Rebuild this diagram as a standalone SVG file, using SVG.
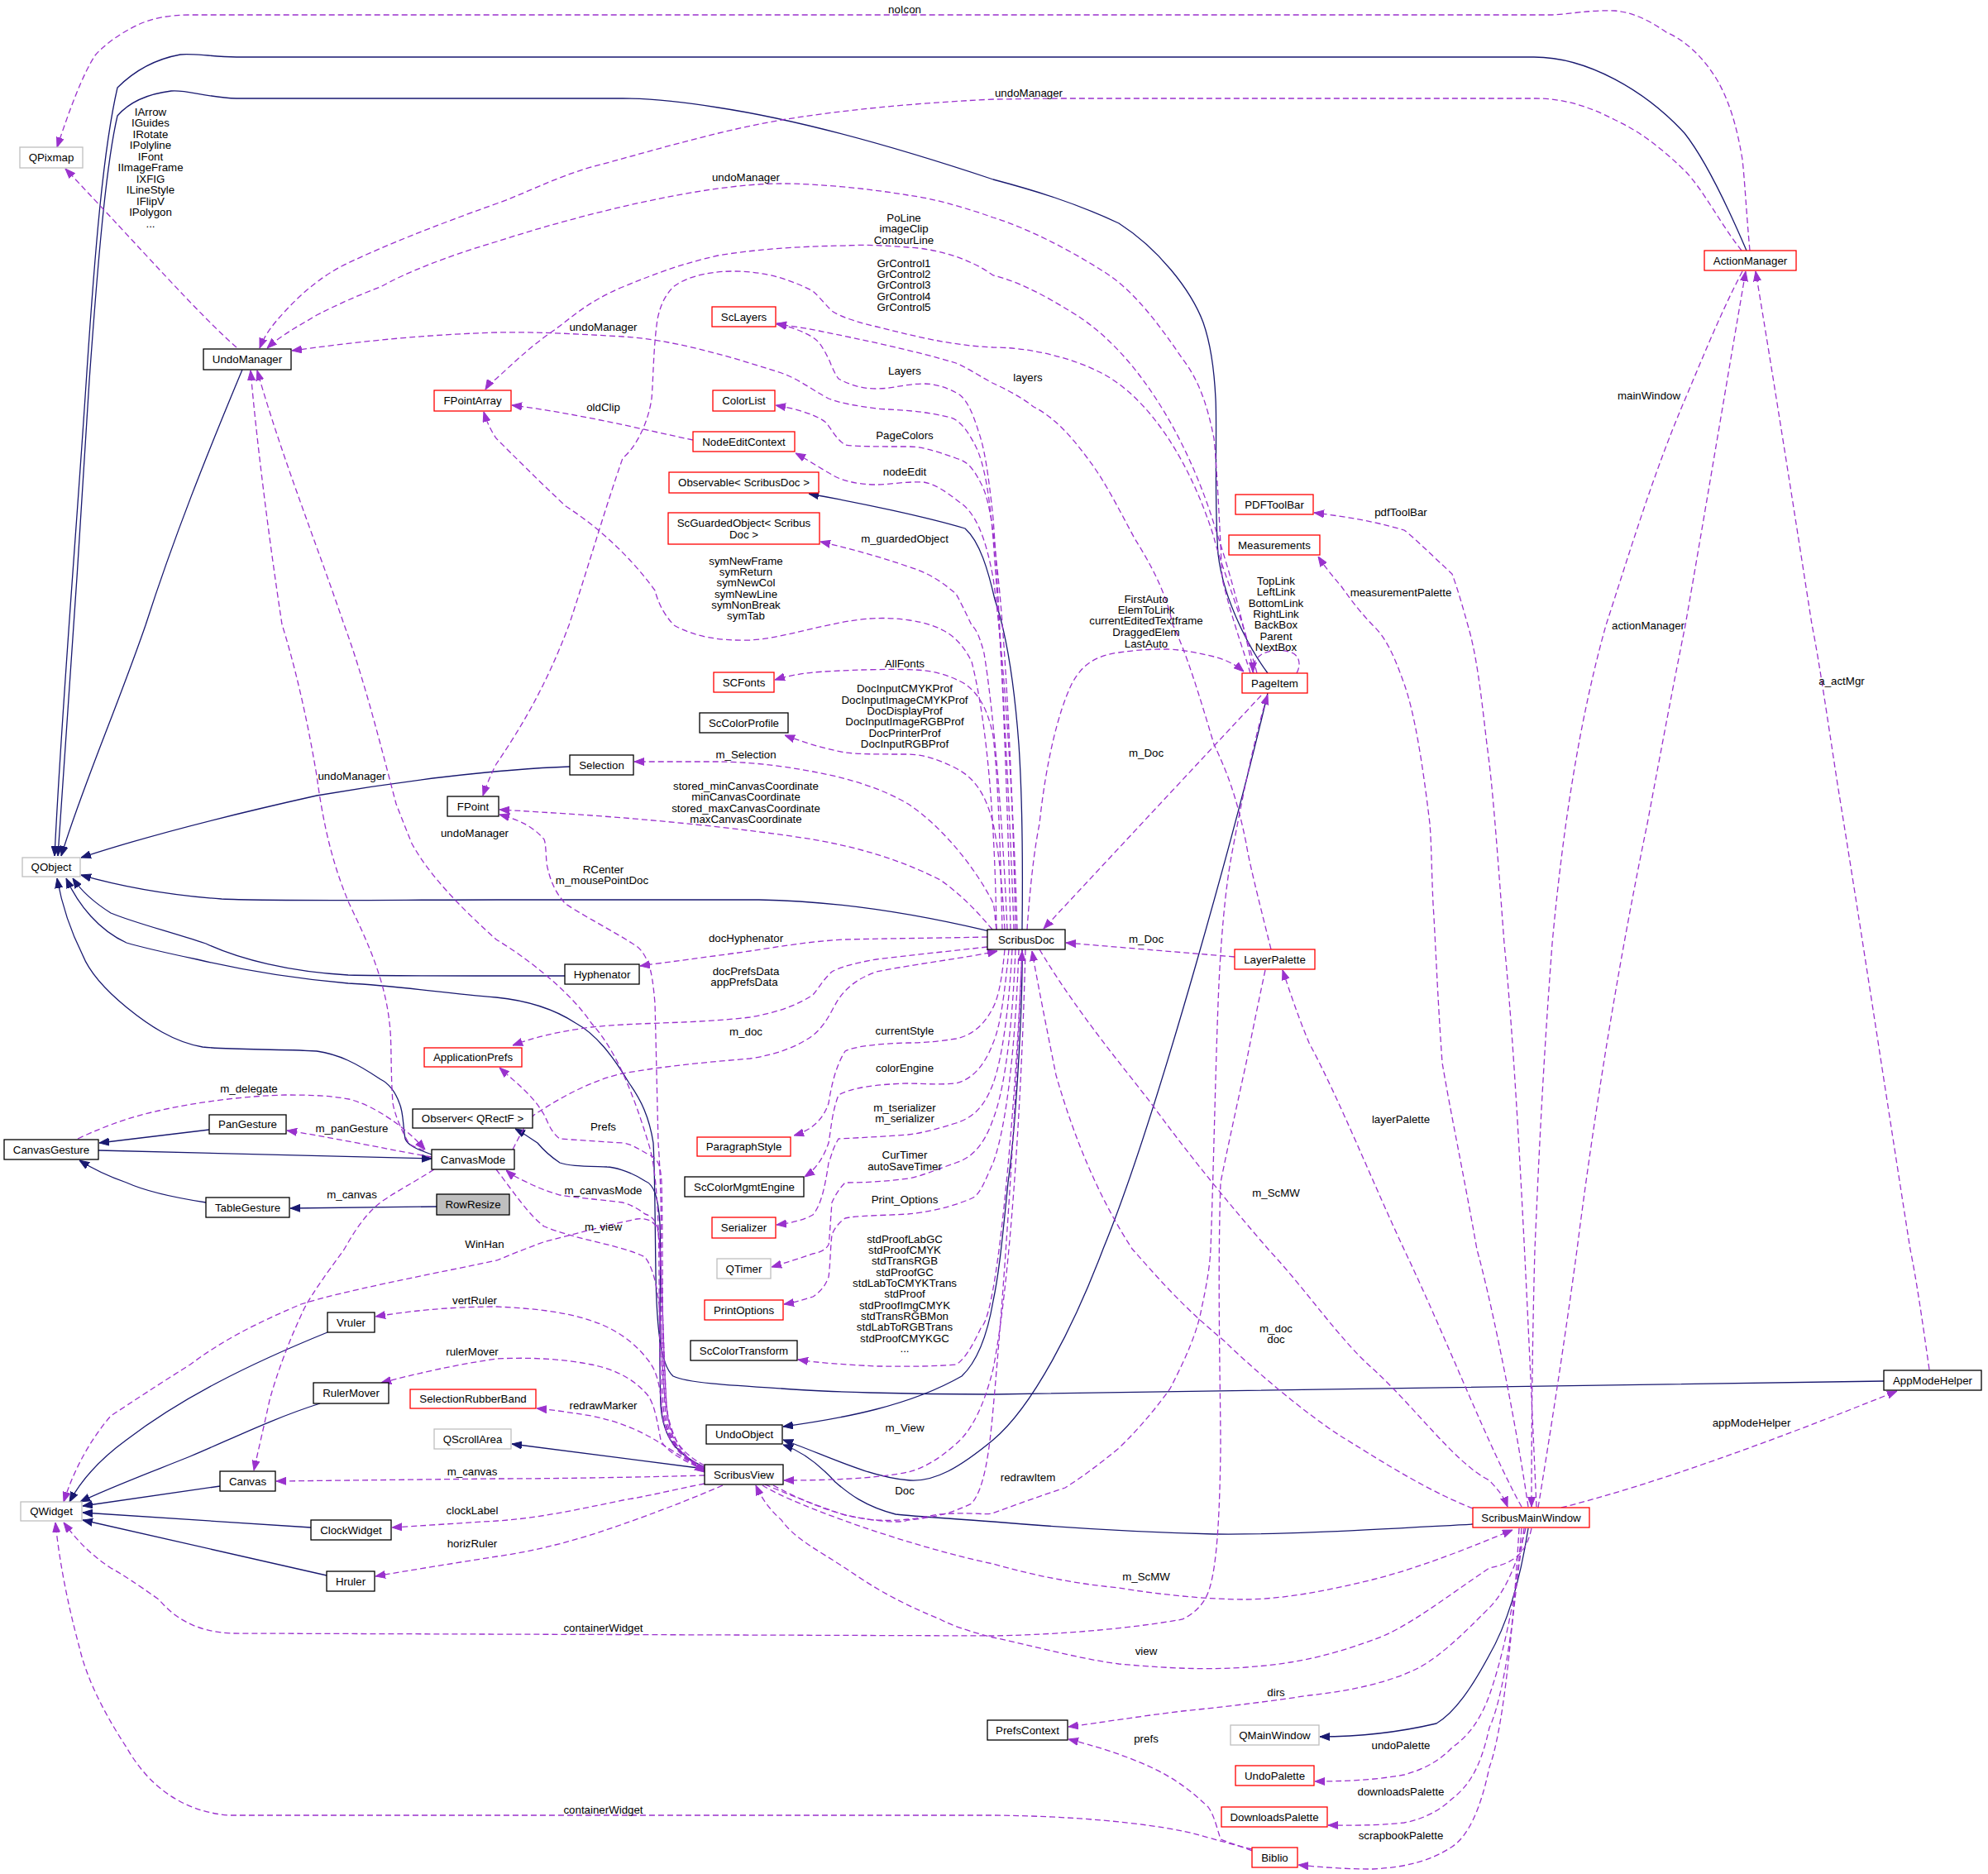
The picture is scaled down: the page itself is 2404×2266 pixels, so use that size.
<svg xmlns="http://www.w3.org/2000/svg" width="2404" height="2266" viewBox="0 0 2404 2266">
<style>
.t{font-family:"Liberation Sans",Arial,Helvetica,sans-serif;font-size:13.3px;fill:#000;text-anchor:middle}
.d{fill:none;stroke:#9a32cd;stroke-width:1.3;stroke-dasharray:7,4;marker-end:url(#ap)}
.s{fill:none;stroke:#191970;stroke-width:1.3;marker-end:url(#ab)}
.nb{fill:#fff;stroke:#000;stroke-width:1.3}
.nr{fill:#fff;stroke:#ff0000;stroke-width:1.3}
.ng{fill:#fff;stroke:#bfbfbf;stroke-width:1.3}
.nf{fill:#bfbfbf;stroke:#000;stroke-width:1.3}
</style>
<defs>
<marker id="ap" viewBox="0 0 12 10" refX="12" refY="5" markerWidth="12" markerHeight="10" markerUnits="userSpaceOnUse" orient="auto"><path d="M0,0.5 L12,5 L0,9.5 z" fill="#9a32cd" stroke="#9a32cd" stroke-width="1"/></marker>
<marker id="ab" viewBox="0 0 12 10" refX="12" refY="5" markerWidth="12" markerHeight="10" markerUnits="userSpaceOnUse" orient="auto"><path d="M0,0.5 L12,5 L0,9.5 z" fill="#191970" stroke="#191970" stroke-width="1"/></marker>
</defs>
<rect width="2404" height="2266" fill="#fff"/>
<g id="edges">
<!-- solid inheritance -->
<path class="s" d="M293,447 C250,550 210,650 176,756 C140,860 100,950 74,1035"/>
<path class="s" d="M2112,303 C2085,240 2060,190 2037,161 C1990,110 1920,69 1855,69 L286,69 C250,68 230,64 218,66 C185,72 160,88 142,106 C125,180 115,300 105,450 C92,650 75,850 66,1035"/>
<path class="s" d="M1533,814 C1515,790 1480,730 1473,670 C1468,600 1472,520 1470,482 C1468,440 1462,410 1455,390 C1440,350 1400,300 1353,270 C1300,245 1250,230 1201,217 C1150,200 1000,150 868,130 C820,122 780,119 753,119 L286,119 C250,118 225,108 207,110 C175,114 155,125 142,140 C128,200 118,320 108,460 C96,650 84,850 70,1035"/>
<path class="s" d="M689,927 C600,930 480,945 383,962 C280,985 180,1010 98,1037"/>
<path class="s" d="M1196,1126 C1170,1120 1050,1090 918,1088 L601,1088 C480,1088 330,1090 268,1087 C200,1082 140,1070 98,1058"/>
<path class="s" d="M683,1180 L601,1180 C520,1180 470,1180 421,1179 C350,1175 290,1160 249,1141 C200,1125 160,1115 134,1104 C115,1092 100,1080 88,1062"/>
<path class="s" d="M2278,1670 L1201,1686 C1100,1686 990,1683 945,1679 C880,1675 830,1672 814,1664 C798,1650 794,1600 793,1540 C792,1470 792,1420 790,1382 C785,1350 775,1330 761,1310 C740,1275 720,1250 696,1237 C670,1220 640,1210 600,1206 C530,1200 480,1192 421,1189 C340,1182 280,1170 238,1160 C200,1152 170,1145 153,1140 C120,1125 95,1095 80,1062"/>
<path class="s" d="M522,1396 C505,1390 493,1385 490,1377 C487,1360 488,1345 483,1334 C478,1320 470,1310 460,1305 C430,1285 410,1275 383,1271 C330,1268 285,1270 245,1266 C210,1260 180,1240 153,1218 C125,1195 108,1175 100,1155 C85,1125 75,1095 69,1062"/>
<path class="s" d="M1236,1124 C1237,1040 1236,960 1232,900 C1226,820 1215,760 1203,725 C1195,690 1185,655 1167,639 C1120,625 1040,608 978,597"/>
<path class="s" d="M1236,1148 C1237,1200 1230,1350 1219,1430 C1212,1500 1208,1540 1201,1573 C1193,1620 1180,1648 1163,1664 C1100,1700 1020,1715 947,1725"/>
<path class="s" d="M1533,838 C1500,980 1400,1350 1334,1510 C1300,1600 1250,1700 1201,1741 C1160,1775 1130,1792 1100,1790 C1050,1786 1000,1760 947,1741"/>
<path class="s" d="M1781,1843 C1650,1850 1550,1856 1468,1855 C1350,1852 1260,1845 1201,1840 C1150,1836 1110,1834 1083,1831 C1040,1820 1020,1800 1010,1792 C990,1770 970,1755 947,1747"/>
<path class="s" d="M1848,1848 C1840,1900 1825,1960 1800,2003 C1780,2040 1760,2070 1737,2084 C1690,2095 1640,2100 1596,2100"/>
<path class="s" d="M852,1776 L619,1746"/>
<path class="s" d="M852,1774 C820,1760 802,1740 799,1700 C796,1620 800,1540 798,1480 C796,1445 790,1432 780,1428 C760,1415 740,1411 734,1411 C705,1410 688,1410 677,1406 C665,1398 655,1388 650,1382 C640,1375 632,1370 623,1365"/>
<path class="s" d="M119,1391 L522,1401"/>
<path class="s" d="M253,1366 L120,1382"/>
<path class="s" d="M249,1454 C210,1448 175,1440 153,1430 C130,1422 110,1412 96,1403"/>
<path class="s" d="M528,1459 L351,1461"/>
<path class="s" d="M396,1611 C300,1650 220,1690 153,1741 C120,1765 98,1790 84,1816"/>
<path class="s" d="M387,1697 C330,1715 280,1740 230,1761 C170,1785 130,1800 97,1816"/>
<path class="s" d="M266,1797 L100,1821"/>
<path class="s" d="M376,1847 L100,1829"/>
<path class="s" d="M395,1905 L100,1838"/>
<!-- dashed usage -->
<path class="d" d="M2116,303 C2112,260 2110,220 2107,193 C2100,150 2090,120 2076,96 C2060,70 2040,50 2015,39 C1995,25 1975,15 1953,13 C1920,12 1900,17 1877,18 L230,18 C205,18 185,22 169,29 C145,40 125,55 115,67 C100,90 85,130 69,178"/>
<path class="d" d="M2106,303 C2080,270 2060,230 2038,207 C2010,180 1985,160 1953,145 C1920,128 1890,119 1857,119 L1284,119 C1250,119 1220,120 1201,120 C1100,125 1020,133 945,145 C860,160 780,185 715,202 C670,215 640,232 601,246 C520,275 470,295 421,318 C385,335 360,360 345,376 C330,392 320,405 314,421"/>
<path class="d" d="M1512,814 C1505,790 1490,750 1478,700 C1475,640 1472,570 1468,530 C1460,490 1450,460 1430,434 C1400,390 1370,350 1334,328 C1290,300 1240,275 1201,263 C1170,252 1130,240 1098,236 C1050,228 990,222 945,222 C850,222 700,260 601,292 C540,310 490,330 460,347 C420,362 395,375 383,381 C360,395 340,405 323,421"/>
<path class="d" d="M1226,1124 C1222,1000 1212,800 1203,680 C1198,600 1190,560 1180,540 C1170,520 1160,508 1150,505 C1110,495 1080,496 1060,494 C1030,490 1015,487 1002,482 C980,470 965,458 945,451 C880,430 810,410 753,407 C700,404 650,401 601,402 C500,405 420,415 353,424"/>
<path class="d" d="M1222,1124 C1218,950 1210,750 1201,627 C1195,570 1190,540 1183,521 C1175,495 1168,483 1160,477 C1145,468 1130,464 1117,464 C1095,464 1080,470 1060,470 C1040,470 1025,464 1014,458 C1008,450 1005,440 1002,434 C995,420 990,412 983,408 C970,400 955,395 939,391"/>
<path class="d" d="M1228,1124 C1225,950 1215,760 1205,680 C1200,630 1195,600 1186,584 C1176,565 1170,558 1156,554 C1130,545 1115,540 1098,540 C1060,540 1035,540 1022,538 C1010,530 1005,518 999,511 C985,500 960,494 938,490"/>
<path class="d" d="M1230,1124 C1226,980 1215,800 1201,699 C1192,650 1180,620 1160,607 C1145,595 1130,585 1117,583 C1095,582 1075,586 1060,586 C1035,586 1015,580 1006,574 C990,565 975,555 962,548"/>
<path class="d" d="M1218,1124 C1212,980 1200,850 1190,790 C1185,770 1180,760 1175,756 C1165,735 1160,725 1156,718 C1135,700 1120,692 1098,685 C1060,672 1030,664 992,655"/>
<path class="d" d="M1205,1124 C1203,1000 1195,880 1175,800 C1160,770 1140,756 1100,750 C1060,744 1030,750 1006,755 C970,762 940,772 907,774 C870,775 840,770 815,756 C800,740 795,725 792,714 C760,670 720,635 684,612 C650,580 620,550 600,530 C592,518 588,508 585,498"/>
<path class="d" d="M1212,1124 C1210,1050 1208,950 1201,890 C1195,860 1185,840 1167,827 C1140,812 1120,810 1094,809.5 C1050,809 1010,811 983,813 C965,815 950,818 937,822"/>
<path class="d" d="M1215,1124 C1212,1070 1208,1030 1201,996 C1192,960 1178,940 1156,929 C1135,918 1115,912 1098,912 C1060,912 1040,912 1022,910 C995,905 970,897 949,889"/>
<path class="d" d="M1205,1124 C1203,1110 1203,1100 1201,1092 C1180,1050 1140,1000 1098,972 C1060,950 1020,940 983,933 C940,925 900,921 868,921 L767,921"/>
<path class="d" d="M1200,1124 C1180,1100 1160,1080 1137,1064 C1090,1040 1040,1025 983,1015 C900,1002 800,992 715,986 C670,983 640,981 604,979"/>
<path class="d" d="M1194,1133 C1150,1134 1060,1135 1022,1136 C980,1138 940,1145 907,1150 C850,1158 810,1163 774,1168"/>
<path class="d" d="M1194,1145 C1150,1150 1100,1155 1060,1160 C1030,1165 1015,1170 1006,1175 C995,1185 990,1195 983,1203 C960,1218 935,1225 907,1230 C840,1238 770,1236 715,1242 C670,1248 645,1255 620,1264"/>
<path class="d" d="M620,1390 C630,1370 638,1355 646,1348 C680,1325 720,1305 753,1298 C810,1288 860,1284 907,1280 C940,1275 965,1265 983,1252 C1000,1238 1005,1222 1014,1208 C1025,1192 1040,1182 1060,1175 C1110,1165 1170,1158 1206,1150"/>
<path class="d" d="M1215,1148 C1212,1180 1208,1205 1201,1218 C1190,1240 1175,1252 1156,1256 C1130,1260 1115,1261 1098,1261 C1060,1262 1035,1265 1022,1271 C1010,1290 1005,1315 1002,1334 C995,1355 980,1367 960,1373"/>
<path class="d" d="M1220,1148 C1215,1200 1210,1240 1201,1261 C1190,1290 1175,1305 1156,1310 C1130,1312 1115,1310 1098,1310 C1060,1311 1030,1315 1014,1324 C1006,1345 1005,1365 1002,1382 C995,1402 985,1415 973,1423"/>
<path class="d" d="M1224,1148 C1220,1220 1212,1280 1201,1310 C1190,1340 1175,1352 1156,1358 C1130,1366 1115,1370 1098,1372 C1060,1375 1030,1376 1014,1377 C1006,1390 1005,1400 1002,1406 C997,1440 992,1458 983,1469 C970,1476 955,1479 939,1481"/>
<path class="d" d="M1228,1148 C1224,1250 1214,1320 1201,1353 C1190,1385 1175,1400 1156,1406 C1130,1415 1115,1422 1098,1425 C1060,1430 1035,1430 1022,1430 C1012,1440 1008,1450 1006,1454 C1004,1480 1003,1500 1002,1505 C998,1512 992,1514 983,1516 C965,1522 950,1527 933,1532"/>
<path class="d" d="M1232,1148 C1228,1260 1218,1360 1201,1406 C1190,1430 1185,1445 1175,1449 C1150,1460 1120,1466 1098,1468 C1060,1470 1035,1470 1022,1473 C1012,1480 1008,1488 1006,1493 C1004,1510 1004,1530 1002,1544 C998,1555 992,1562 983,1568 C970,1572 960,1575 948,1577"/>
<path class="d" d="M1236,1148 C1230,1300 1215,1480 1201,1558 C1196,1585 1192,1600 1186,1606 C1175,1630 1165,1645 1156,1650 C1120,1653 1090,1652 1060,1652 C1020,1650 990,1648 965,1644"/>
<path class="d" d="M1240,1148 C1235,1350 1220,1560 1201,1655 C1190,1700 1175,1730 1156,1746 C1135,1765 1115,1776 1098,1780 C1060,1788 1000,1790 948,1790"/>
<path class="d" d="M925,1795 C960,1810 1000,1825 1022,1832 C1060,1840 1090,1842 1098,1838 C1130,1835 1150,1830 1175,1818 C1190,1800 1196,1760 1201,1703 C1215,1550 1228,1350 1236,1150"/>
<path class="d" d="M1257,1148 C1300,1220 1350,1280 1392,1334 C1440,1400 1490,1460 1534,1511 C1580,1560 1620,1620 1660,1655 C1710,1700 1760,1770 1801,1790 C1810,1800 1818,1808 1823,1822"/>
<path class="d" d="M1781,1824 C1720,1800 1660,1760 1622,1737 C1580,1710 1520,1660 1480,1621 C1430,1580 1400,1545 1369,1510 C1330,1450 1300,1380 1277,1300 C1265,1240 1255,1190 1248,1150"/>
<path class="d" d="M2107,328 C2080,380 2060,430 2038,482 C2000,570 1970,670 1942,756 C1910,870 1890,1000 1877,1141 C1865,1300 1860,1420 1856,1511 C1853,1620 1852,1720 1852,1822"/>
<path class="d" d="M1860,1823 C1880,1700 1895,1600 1907,1511 C1930,1330 1960,1150 1992,996 C2010,900 2025,820 2038,756 C2060,630 2085,480 2111,328"/>
<path class="d" d="M2333,1656 C2325,1600 2318,1550 2310,1511 C2280,1320 2250,1120 2222,948 C2210,870 2200,800 2191,755 C2170,620 2145,460 2123,328"/>
<path class="d" d="M1888,1823 C2000,1795 2150,1740 2294,1682"/>
<path class="d" d="M1858,1822 C1848,1600 1835,1300 1819,1141 C1810,1020 1805,950 1798,900 C1790,830 1785,790 1775,756 C1765,720 1760,705 1756,694 C1730,670 1710,650 1698,641 C1660,630 1630,625 1589,620"/>
<path class="d" d="M1848,1822 C1830,1700 1800,1560 1786,1511 C1770,1420 1755,1350 1744,1285 C1738,1200 1736,1140 1733,1093 C1731,1050 1731,1020 1729,996 C1720,920 1710,860 1698,827 C1685,790 1675,770 1660,756 C1640,735 1630,720 1622,709 C1610,695 1602,685 1594,673"/>
<path class="d" d="M1840,1822 C1800,1750 1750,1620 1698,1511 C1660,1430 1620,1330 1583,1261 C1570,1230 1560,1200 1551,1173"/>
<path class="d" d="M1852,1848 C1845,1880 1830,1890 1801,1896 C1750,1930 1700,1970 1660,1983 C1600,2005 1560,2012 1507,2016 C1450,2020 1400,2016 1353,2012 C1300,2005 1250,1990 1201,1980 C1160,1970 1140,1960 1137,1958 C1080,1935 1050,1915 1022,1896 C990,1875 960,1860 945,1838 C930,1825 920,1810 914,1796"/>
<path class="d" d="M922,1796 C960,1820 1100,1870 1201,1891 C1250,1905 1300,1915 1353,1920 C1400,1928 1460,1934 1507,1934 C1560,1933 1610,1922 1660,1910 C1720,1895 1780,1870 1829,1850"/>
<path class="d" d="M935,1796 C980,1820 1020,1835 1060,1838 C1100,1840 1120,1833 1137,1831 C1170,1828 1190,1832 1200,1830 C1240,1815 1270,1805 1288,1799 C1310,1785 1330,1770 1353,1751 C1380,1725 1400,1700 1415,1679 C1435,1640 1448,1610 1453,1582 C1460,1550 1463,1530 1464,1510 C1468,1400 1470,1280 1474,1189 C1478,1110 1484,1060 1491,1025 C1505,950 1520,880 1533,840"/>
<path class="d" d="M1530,1173 C1520,1220 1512,1260 1507,1285 C1495,1340 1484,1390 1476,1430 C1472,1550 1476,1680 1476,1751 C1475,1830 1472,1870 1468,1896 C1465,1915 1462,1925 1457,1934 C1450,1945 1442,1952 1430,1958 C1350,1972 1260,1977 1201,1978 L280,1975 C235,1973 210,1955 192,1934 C165,1915 150,1905 134,1896 C110,1880 95,1865 77,1841"/>
<path class="d" d="M1514,2236 C1480,2228 1450,2218 1430,2214 C1380,2204 1300,2196 1201,2195 L276,2195 C220,2190 180,2160 153,2113 C125,2070 105,2030 96,1992 C82,1940 72,1890 67,1841"/>
<path class="d" d="M1845,1848 C1835,1890 1820,1925 1801,1944 C1770,1975 1745,2000 1717,2016 C1680,2035 1630,2045 1583,2050 C1530,2058 1480,2064 1430,2069 C1380,2075 1330,2083 1292,2088"/>
<path class="d" d="M1514,2238 C1500,2232 1485,2228 1476,2224 C1470,2205 1468,2195 1461,2185 C1440,2165 1420,2150 1392,2137 C1360,2122 1320,2110 1292,2103"/>
<path class="d" d="M1843,1848 C1830,1950 1815,2010 1801,2050 C1790,2080 1775,2100 1756,2113 C1740,2130 1720,2140 1698,2146 C1660,2153 1620,2154 1590,2154"/>
<path class="d" d="M1840,1848 C1830,1980 1815,2060 1801,2089 C1790,2140 1775,2160 1756,2175 C1740,2190 1720,2200 1698,2204 C1660,2208 1630,2207 1606,2207"/>
<path class="d" d="M1837,1848 C1828,2000 1815,2100 1801,2137 C1790,2190 1775,2220 1756,2233 C1730,2250 1700,2258 1660,2260 C1620,2260 1590,2257 1570,2255"/>
<path class="d" d="M1242,1124 C1245,1080 1250,1030 1257,996 C1265,920 1280,860 1296,827 C1310,800 1330,792 1353,789 C1380,785 1395,785 1411,785 C1435,786 1450,790 1468,794 C1480,797 1492,802 1504,812"/>
<path class="d" d="M1568,814 C1573,805 1572,795 1564,790 C1550,784 1535,786 1526,791 C1518,796 1515,802 1515,813"/>
<path class="d" d="M1525,841 L1262,1123"/>
<path class="d" d="M1493,1157 L1289,1140"/>
<path class="d" d="M1537,1148 C1520,1080 1510,1040 1507,1020 C1495,960 1482,930 1468,900 C1450,840 1435,790 1418,755 C1410,715 1390,680 1372,651 C1350,610 1335,580 1315,554 C1290,520 1270,502 1250,492 C1235,480 1215,470 1200,463 C1180,452 1170,445 1156,439 C1110,425 1040,410 990,400 C970,396 955,394 939,392"/>
<path class="d" d="M1516,814 C1505,760 1490,700 1470,640 C1440,540 1380,430 1300,380 C1260,355 1230,340 1201,333 C1190,325 1180,320 1175,318 C1150,306 1120,300 1098,299 C1060,296 1040,296 1022,297 C960,298 910,302 868,309 C820,320 790,332 753,347 C710,365 690,385 669,400 C640,420 620,440 600,458 C595,462 590,466 587,471"/>
<path class="d" d="M1520,814 C1500,740 1475,680 1468,650 C1440,560 1390,480 1330,450 C1290,430 1240,420 1201,420 C1150,418 1100,405 1060,395 C1030,388 1015,382 1006,376 C995,365 990,358 983,352 C950,335 920,328 887,328 C850,328 825,338 814,347 C802,360 798,372 795,386 C790,420 790,460 788,482 C784,510 770,540 753,554 C730,620 710,690 688,756 C660,830 630,880 600,924 C592,940 588,950 584,962"/>
<path class="d" d="M838,532 C780,520 700,500 619,490"/>
<path class="d" d="M286,420 C240,380 170,300 79,204"/>
<path class="d" d="M94,1377 C130,1360 160,1350 192,1343 C240,1332 300,1325 345,1324 C380,1324 400,1325 422,1329 C445,1335 465,1348 479,1358 C495,1370 505,1380 514,1390"/>
<path class="d" d="M522,1399 C470,1390 400,1375 347,1367"/>
<path class="d" d="M525,1414 C500,1430 480,1440 460,1454 C440,1470 428,1490 416,1511 C395,1540 380,1560 368,1582 C350,1620 335,1660 326,1693 C318,1730 312,1755 307,1778"/>
<path class="d" d="M513,1391 C500,1387 496,1384 494,1382 C485,1365 478,1350 475,1334 C472,1290 474,1260 471,1237 C465,1180 440,1130 422,1092 C400,1040 390,990 383,938 C370,860 355,800 341,755 C325,650 310,530 303,448"/>
<path class="d" d="M852,1774 C820,1760 805,1740 800,1700 C796,1620 798,1540 796,1480 C794,1430 790,1400 784,1382 C765,1320 745,1270 715,1237 C690,1200 640,1160 600,1136 C560,1100 520,1060 498,1020 C490,1000 484,985 479,972 C460,900 440,820 416,755 C380,650 340,550 311,448"/>
<path class="d" d="M852,1775 C822,1760 806,1742 802,1700 C798,1620 800,1520 799,1450 C798,1410 797,1395 796,1382 C794,1300 793,1250 792,1213 C790,1190 788,1175 784,1165 C778,1150 772,1145 765,1141 C740,1125 710,1110 684,1093 C672,1080 665,1065 661,1044 C660,1030 660,1020 658,1015 C645,1000 630,992 604,985"/>
<path class="d" d="M852,1776 C824,1762 808,1744 804,1700 C800,1620 802,1500 800,1430 C799,1410 796,1400 784,1396 C770,1388 765,1384 753,1382 C720,1380 690,1378 677,1377 C665,1368 662,1355 658,1348 C645,1325 625,1310 604,1291"/>
<path class="d" d="M852,1778 C826,1764 810,1746 806,1700 C802,1620 800,1530 796,1490 C794,1476 788,1470 780,1468 C770,1460 760,1456 753,1454 C720,1450 695,1448 677,1445 C660,1440 648,1435 638,1430 C628,1425 620,1422 612,1415"/>
<path class="d" d="M600,1414 C620,1440 640,1470 658,1483 C700,1500 750,1505 780,1520 C795,1540 798,1580 800,1620 C802,1700 806,1750 852,1780"/>
<path class="d" d="M852,1772 C823,1757 809,1737 806,1700 C801,1620 801,1540 797,1495 C795,1478 785,1472 770,1474 C740,1480 690,1493 657,1502 C635,1510 615,1518 601,1524 C500,1545 420,1560 364,1577 C310,1600 270,1620 230,1650 C190,1675 160,1695 134,1712 C110,1740 90,1775 77,1816"/>
<path class="d" d="M852,1777 C820,1762 802,1740 800,1700 C798,1670 792,1655 784,1645 C765,1620 740,1605 715,1597 C680,1585 640,1582 601,1580 C540,1580 490,1586 454,1592"/>
<path class="d" d="M852,1778 C825,1765 805,1755 799,1741 C795,1720 792,1700 784,1688 C765,1665 740,1655 715,1650 C680,1643 640,1641 601,1643 C550,1650 500,1662 461,1672"/>
<path class="d" d="M852,1779 C830,1765 810,1752 792,1741 C770,1728 745,1718 715,1712 C690,1708 670,1705 649,1703"/>
<path class="d" d="M852,1784 C780,1786 680,1788 601,1788 L334,1791"/>
<path class="d" d="M852,1794 C820,1800 790,1808 753,1814 C700,1825 650,1836 601,1839 C550,1842 510,1845 474,1847"/>
<path class="d" d="M874,1796 C830,1815 790,1830 753,1843 C700,1862 650,1875 601,1882 C550,1890 500,1898 454,1906"/>
</g>
<g id="edge-labels">
<text class="t" x="1094" y="16">noIcon</text>
<text class="t" x="1244" y="117">undoManager</text>
<text class="t" x="902" y="219">undoManager</text>
<text class="t"><tspan x="1093" y="268">PoLine</tspan><tspan x="1093" y="281">imageClip</tspan><tspan x="1093" y="295">ContourLine</tspan></text>
<text class="t"><tspan x="1093" y="323">GrControl1</tspan><tspan x="1093" y="336">GrControl2</tspan><tspan x="1093" y="349">GrControl3</tspan><tspan x="1093" y="363">GrControl4</tspan><tspan x="1093" y="376">GrControl5</tspan></text>
<text class="t"><tspan x="182" y="139.5">IArrow</tspan><tspan x="182" y="153">IGuides</tspan><tspan x="182" y="166.5">IRotate</tspan><tspan x="182" y="180">IPolyline</tspan><tspan x="182" y="193.5">IFont</tspan><tspan x="182" y="207">IImageFrame</tspan><tspan x="182" y="220.5">IXFIG</tspan><tspan x="182" y="234">ILineStyle</tspan><tspan x="182" y="247.5">IFlipV</tspan><tspan x="182" y="261">IPolygon</tspan><tspan x="182" y="274.5">...</tspan></text>
<text class="t" x="729.5" y="400">undoManager</text>
<text class="t" x="1094" y="453">Layers</text>
<text class="t" x="1243" y="461">layers</text>
<text class="t" x="729.5" y="497">oldClip</text>
<text class="t" x="1094" y="531">PageColors</text>
<text class="t" x="1094" y="575">nodeEdit</text>
<text class="t" x="1694" y="624">pdfToolBar</text>
<text class="t" x="1094" y="656">m_guardedObject</text>
<text class="t"><tspan x="902" y="683">symNewFrame</tspan><tspan x="902" y="696">symReturn</tspan><tspan x="902" y="709">symNewCol</tspan><tspan x="902" y="722.5">symNewLine</tspan><tspan x="902" y="736">symNonBreak</tspan><tspan x="902" y="749">symTab</tspan></text>
<text class="t" x="1694" y="720.5">measurementPalette</text>
<text class="t"><tspan x="1543" y="706.5">TopLink</tspan><tspan x="1543" y="720">LeftLink</tspan><tspan x="1543" y="733.5">BottomLink</tspan><tspan x="1543" y="747">RightLink</tspan><tspan x="1543" y="760">BackBox</tspan><tspan x="1543" y="774">Parent</tspan><tspan x="1543" y="787">NextBox</tspan></text>
<text class="t"><tspan x="1386" y="729">FirstAuto</tspan><tspan x="1386" y="742">ElemToLink</tspan><tspan x="1386" y="755">currentEditedTextframe</tspan><tspan x="1386" y="769">DraggedElem</tspan><tspan x="1386" y="782.5">LastAuto</tspan></text>
<text class="t" x="1994" y="483">mainWindow</text>
<text class="t" x="1993" y="760.5">actionManager</text>
<text class="t" x="1094" y="807">AllFonts</text>
<text class="t" x="2227" y="828">a_actMgr</text>
<text class="t"><tspan x="1094" y="836.5">DocInputCMYKProf</tspan><tspan x="1094" y="850.5">DocInputImageCMYKProf</tspan><tspan x="1094" y="863.5">DocDisplayProf</tspan><tspan x="1094" y="877">DocInputImageRGBProf</tspan><tspan x="1094" y="890.5">DocPrinterProf</tspan><tspan x="1094" y="903.5">DocInputRGBProf</tspan></text>
<text class="t" x="1386" y="914.5">m_Doc</text>
<text class="t" x="902" y="917">m_Selection</text>
<text class="t"><tspan x="902" y="955">stored_minCanvasCoordinate</tspan><tspan x="902" y="968">minCanvasCoordinate</tspan><tspan x="902" y="981.5">stored_maxCanvasCoordinate</tspan><tspan x="902" y="995">maxCanvasCoordinate</tspan></text>
<text class="t" x="425.5" y="943">undoManager</text>
<text class="t" x="574" y="1012">undoManager</text>
<text class="t"><tspan x="729.5" y="1055.5">RCenter</tspan><tspan x="728" y="1068.5">m_mousePointDoc</tspan></text>
<text class="t" x="902" y="1139">docHyphenator</text>
<text class="t" x="1386" y="1140">m_Doc</text>
<text class="t"><tspan x="902" y="1178.5">docPrefsData</tspan><tspan x="900" y="1192">appPrefsData</tspan></text>
<text class="t" x="1094" y="1251">currentStyle</text>
<text class="t" x="902" y="1252">m_doc</text>
<text class="t" x="1094" y="1296">colorEngine</text>
<text class="t" x="301" y="1321">m_delegate</text>
<text class="t"><tspan x="1094" y="1344">m_tserializer</tspan><tspan x="1094" y="1357">m_serializer</tspan></text>
<text class="t" x="1694" y="1357.5">layerPalette</text>
<text class="t" x="729.5" y="1366.5">Prefs</text>
<text class="t" x="425.5" y="1369">m_panGesture</text>
<text class="t"><tspan x="1094" y="1401">CurTimer</tspan><tspan x="1094" y="1415">autoSaveTimer</tspan></text>
<text class="t" x="729.5" y="1444">m_canvasMode</text>
<text class="t" x="1543" y="1446.5">m_ScMW</text>
<text class="t" x="425.5" y="1449">m_canvas</text>
<text class="t" x="1094" y="1455">Print_Options</text>
<text class="t" x="729.5" y="1487.5">m_view</text>
<text class="t"><tspan x="1094" y="1503">stdProofLabGC</tspan><tspan x="1094" y="1516">stdProofCMYK</tspan><tspan x="1094" y="1529">stdTransRGB</tspan><tspan x="1094" y="1542.5">stdProofGC</tspan><tspan x="1094" y="1555.5">stdLabToCMYKTrans</tspan><tspan x="1094" y="1569">stdProof</tspan><tspan x="1094" y="1582.5">stdProofImgCMYK</tspan><tspan x="1094" y="1595.5">stdTransRGBMon</tspan><tspan x="1094" y="1608.5">stdLabToRGBTrans</tspan><tspan x="1094" y="1622.5">stdProofCMYKGC</tspan><tspan x="1094" y="1635">...</tspan></text>
<text class="t" x="586" y="1508.5">WinHan</text>
<text class="t" x="574" y="1577">vertRuler</text>
<text class="t"><tspan x="1543" y="1611">m_doc</tspan><tspan x="1543" y="1624">doc</tspan></text>
<text class="t" x="571" y="1639">rulerMover</text>
<text class="t" x="729.5" y="1703.5">redrawMarker</text>
<text class="t" x="2118" y="1725">appModeHelper</text>
<text class="t" x="1094" y="1730.5">m_View</text>
<text class="t" x="571" y="1783.5">m_canvas</text>
<text class="t" x="1243" y="1791">redrawItem</text>
<text class="t" x="1094" y="1807">Doc</text>
<text class="t" x="571" y="1831">clockLabel</text>
<text class="t" x="571" y="1870.5">horizRuler</text>
<text class="t" x="1386" y="1911">m_ScMW</text>
<text class="t" x="729.5" y="1972.5">containerWidget</text>
<text class="t" x="1386" y="2001">view</text>
<text class="t" x="1543" y="2050.5">dirs</text>
<text class="t" x="1386" y="2107">prefs</text>
<text class="t" x="1694" y="2115">undoPalette</text>
<text class="t" x="1694" y="2171">downloadsPalette</text>
<text class="t" x="1694" y="2224">scrapbookPalette</text>
<text class="t" x="729.5" y="2193">containerWidget</text>
</g>
<g id="n_QPixmap"><rect class="ng" x="24" y="178" width="76" height="25"/><text class="t" x="62" y="195">QPixmap</text></g>
<g id="n_UndoManager"><rect class="nb" x="246" y="422" width="106" height="25"/><text class="t" x="299" y="439">UndoManager</text></g>
<g id="n_FPointArray"><rect class="nr" x="525" y="472" width="93" height="25"/><text class="t" x="571.5" y="489">FPointArray</text></g>
<g id="n_ScLayers"><rect class="nr" x="861" y="371" width="77" height="24"/><text class="t" x="899.5" y="387.5">ScLayers</text></g>
<g id="n_ColorList"><rect class="nr" x="862" y="472" width="75" height="25"/><text class="t" x="899.5" y="489">ColorList</text></g>
<g id="n_NodeEditContext"><rect class="nr" x="838" y="522" width="123" height="24"/><text class="t" x="899.5" y="538.5">NodeEditContext</text></g>
<g id="n_Observable"><rect class="nr" x="809" y="571" width="181" height="25"/><text class="t" x="899.5" y="588">Observable&lt; ScribusDoc &gt;</text></g>
<g id="n_ScGuardedObject"><rect class="nr" x="808" y="620" width="183" height="38"/><text class="t"><tspan x="899.5" y="636.5">ScGuardedObject&lt; Scribus</tspan><tspan x="899.5" y="650.5">Doc &gt;</tspan></text></g>
<g id="n_SCFonts"><rect class="nr" x="863" y="813" width="73" height="24"/><text class="t" x="899.5" y="829.5">SCFonts</text></g>
<g id="n_ScColorProfile"><rect class="nb" x="846" y="862" width="107" height="24"/><text class="t" x="899.5" y="878.5">ScColorProfile</text></g>
<g id="n_Selection"><rect class="nb" x="689" y="913" width="77" height="24"/><text class="t" x="727.5" y="929.5">Selection</text></g>
<g id="n_FPoint"><rect class="nb" x="541" y="963" width="62" height="24"/><text class="t" x="572" y="979.5">FPoint</text></g>
<g id="n_QObject"><rect class="ng" x="27" y="1037" width="70" height="23"/><text class="t" x="62" y="1053">QObject</text></g>
<g id="n_Hyphenator"><rect class="nb" x="683" y="1166" width="90" height="24"/><text class="t" x="728" y="1182.5">Hyphenator</text></g>
<g id="n_ScribusDoc"><rect class="nb" x="1194" y="1124" width="94" height="24"/><text class="t" x="1241" y="1140.5">ScribusDoc</text></g>
<g id="n_ApplicationPrefs"><rect class="nr" x="513" y="1267" width="118" height="23"/><text class="t" x="572" y="1283">ApplicationPrefs</text></g>
<g id="n_Observer"><rect class="nb" x="499" y="1341" width="145" height="23"/><text class="t" x="571.5" y="1357">Observer&lt; QRectF &gt;</text></g>
<g id="n_CanvasMode"><rect class="nb" x="522" y="1390" width="100" height="24"/><text class="t" x="572" y="1406.5">CanvasMode</text></g>
<g id="n_RowResize"><rect class="nf" x="528" y="1444" width="88" height="25"/><text class="t" x="572" y="1461">RowResize</text></g>
<g id="n_PanGesture"><rect class="nb" x="253" y="1348" width="93" height="23"/><text class="t" x="299.5" y="1364">PanGesture</text></g>
<g id="n_CanvasGesture"><rect class="nb" x="5" y="1378" width="114" height="24"/><text class="t" x="62" y="1394.5">CanvasGesture</text></g>
<g id="n_TableGesture"><rect class="nb" x="249" y="1448" width="101" height="24"/><text class="t" x="299.5" y="1464.5">TableGesture</text></g>
<g id="n_ParagraphStyle"><rect class="nr" x="843" y="1375" width="113" height="23"/><text class="t" x="899.5" y="1391">ParagraphStyle</text></g>
<g id="n_ScColorMgmtEngine"><rect class="nb" x="828" y="1423" width="144" height="24"/><text class="t" x="900" y="1439.5">ScColorMgmtEngine</text></g>
<g id="n_Serializer"><rect class="nr" x="861" y="1472" width="77" height="25"/><text class="t" x="899.5" y="1489">Serializer</text></g>
<g id="n_QTimer"><rect class="ng" x="867" y="1522" width="65" height="24"/><text class="t" x="899.5" y="1538.5">QTimer</text></g>
<g id="n_PrintOptions"><rect class="nr" x="852" y="1572" width="95" height="24"/><text class="t" x="899.5" y="1588.5">PrintOptions</text></g>
<g id="n_ScColorTransform"><rect class="nb" x="835" y="1621" width="129" height="24"/><text class="t" x="899.5" y="1637.5">ScColorTransform</text></g>
<g id="n_UndoObject"><rect class="nb" x="854" y="1723" width="92" height="23"/><text class="t" x="900" y="1739">UndoObject</text></g>
<g id="n_ScribusView"><rect class="nb" x="852" y="1771" width="95" height="24"/><text class="t" x="899.5" y="1787.5">ScribusView</text></g>
<g id="n_SelectionRubberBand"><rect class="nr" x="496" y="1680" width="152" height="23"/><text class="t" x="572" y="1696">SelectionRubberBand</text></g>
<g id="n_QScrollArea"><rect class="ng" x="525" y="1728" width="93" height="24"/><text class="t" x="571.5" y="1744.5">QScrollArea</text></g>
<g id="n_Vruler"><rect class="nb" x="396" y="1587" width="57" height="24"/><text class="t" x="424.5" y="1603.5">Vruler</text></g>
<g id="n_RulerMover"><rect class="nb" x="379" y="1672" width="91" height="25"/><text class="t" x="424.5" y="1689">RulerMover</text></g>
<g id="n_Canvas"><rect class="nb" x="266" y="1779" width="67" height="24"/><text class="t" x="299.5" y="1795.5">Canvas</text></g>
<g id="n_QWidget"><rect class="ng" x="25" y="1816" width="74" height="23"/><text class="t" x="62" y="1832">QWidget</text></g>
<g id="n_ClockWidget"><rect class="nb" x="376" y="1838" width="97" height="24"/><text class="t" x="424.5" y="1854.5">ClockWidget</text></g>
<g id="n_Hruler"><rect class="nb" x="395" y="1900" width="58" height="24"/><text class="t" x="424" y="1916.5">Hruler</text></g>
<g id="n_PrefsContext"><rect class="nb" x="1194" y="2080" width="97" height="24"/><text class="t" x="1242.5" y="2096.5">PrefsContext</text></g>
<g id="n_QMainWindow"><rect class="ng" x="1488" y="2086" width="107" height="24"/><text class="t" x="1541.5" y="2102.5">QMainWindow</text></g>
<g id="n_UndoPalette"><rect class="nr" x="1494" y="2135" width="95" height="24"/><text class="t" x="1541.5" y="2151.5">UndoPalette</text></g>
<g id="n_DownloadsPalette"><rect class="nr" x="1477" y="2185" width="128" height="24"/><text class="t" x="1541" y="2201.5">DownloadsPalette</text></g>
<g id="n_Biblio"><rect class="nr" x="1514" y="2234" width="55" height="24"/><text class="t" x="1541.5" y="2250.5">Biblio</text></g>
<g id="n_ScribusMainWindow"><rect class="nr" x="1781" y="1823" width="141" height="24"/><text class="t" x="1851.5" y="1839.5">ScribusMainWindow</text></g>
<g id="n_AppModeHelper"><rect class="nb" x="2278" y="1657" width="118" height="24"/><text class="t" x="2337" y="1673.5">AppModeHelper</text></g>
<g id="n_ActionManager"><rect class="nr" x="2061" y="303" width="111" height="24"/><text class="t" x="2116.5" y="319.5">ActionManager</text></g>
<g id="n_PDFToolBar"><rect class="nr" x="1494" y="598" width="94" height="24"/><text class="t" x="1541" y="614.5">PDFToolBar</text></g>
<g id="n_Measurements"><rect class="nr" x="1486" y="647" width="110" height="24"/><text class="t" x="1541" y="663.5">Measurements</text></g>
<g id="n_PageItem"><rect class="nr" x="1502" y="814" width="79" height="24"/><text class="t" x="1541.5" y="830.5">PageItem</text></g>
<g id="n_LayerPalette"><rect class="nr" x="1493" y="1148" width="97" height="24"/><text class="t" x="1541.5" y="1164.5">LayerPalette</text></g>
</svg>
